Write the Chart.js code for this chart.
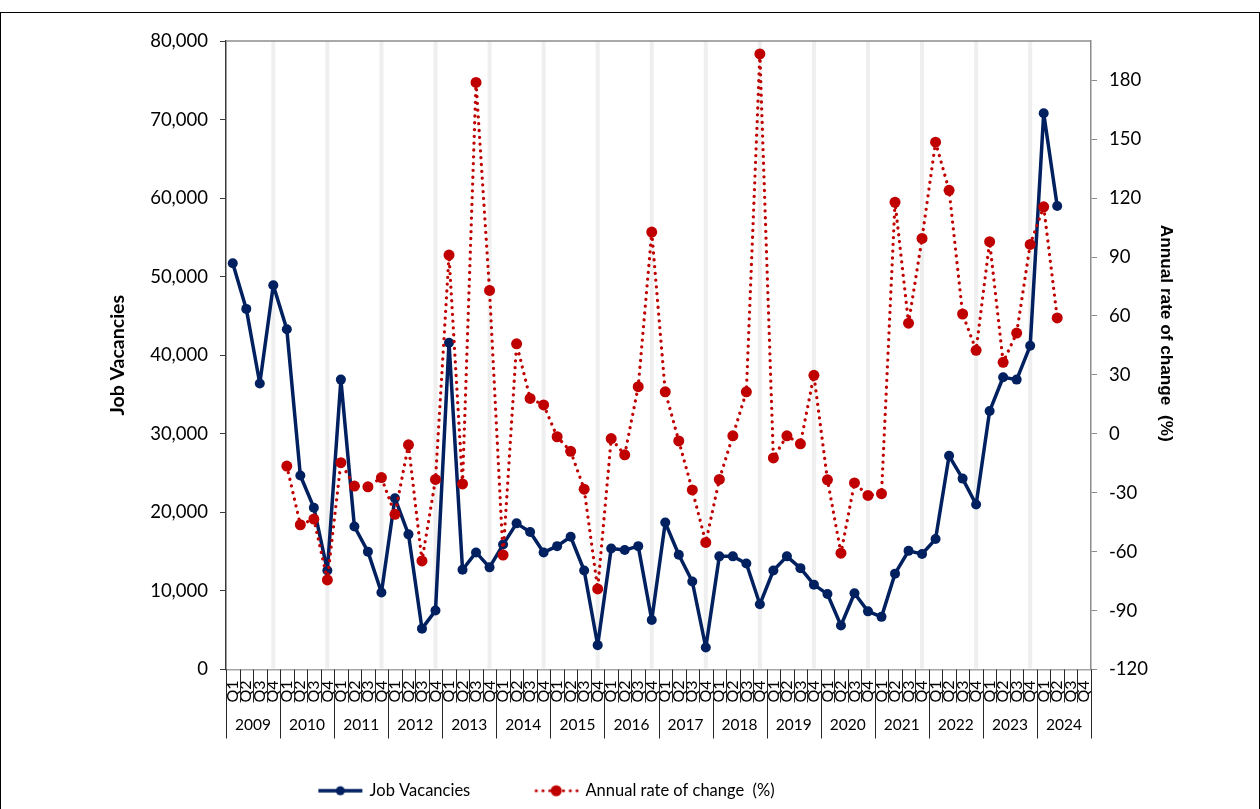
<!DOCTYPE html>
<html>
<head>
<meta charset="utf-8">
<script src="https://cdn.jsdelivr.net/npm/chart.js@4.4.1/dist/chart.umd.min.js"></script>
<style>
    html, body { margin: 0; padding: 0; background: #fff; }
    #frame { position: absolute; left: 0; top: 12px; width: 1258px; height: 820px; border: 1px solid #000; }
    #wrap { position: absolute; left: 0; top: 0; width: 1260px; height: 809px; }
</style>
</head>
<body>
<div id="frame"></div>
<div id="wrap"><canvas id="chart" width="1260" height="809"></canvas></div>
<script>
// Quarterly job vacancies and their annual rate of change

const years = ['2009', '2010', '2011', '2012', '2013', '2014', '2015', '2016',
               '2017', '2018', '2019', '2020', '2021', '2022', '2023', '2024'];
const quarters = ['Q1', 'Q2', 'Q3', 'Q4'];

// 2009 Q1 .. 2024 Q2
const jobVacancies = [
    51700, 45900, 36400, 48900,
    43300, 24700, 20600, 12600,
    36900, 18200, 15000, 9800,
    21800, 17200, 5200, 7500,
    41600, 12700, 14900, 13000,
    15900, 18600, 17500, 14900,
    15700, 16900, 12600, 3100,
    15400, 15200, 15700, 6300,
    18700, 14600, 11200, 2800,
    14400, 14400, 13500, 8300,
    12600, 14400, 12900, 10800,
    9600, 5600, 9700, 7400,
    6700, 12200, 15100, 14700,
    16600, 27200, 24300, 21000,
    32900, 37200, 36900, 41200,
    70800, 59000
];

// 2010 Q1 .. 2024 Q2 (%)
const annualChange = [
    -16.4, -46.3, -43.4, -74.4,
    -14.7, -26.6, -27.0, -22.3,
    -41.0, -5.6, -64.7, -23.2,
    91.0, -25.5, 178.9, 73.0,
    -61.7, 45.8, 18.0, 14.7,
    -1.5, -8.9, -28.2, -79.0,
    -2.4, -10.7, 24.0, 102.7,
    21.4, -3.6, -28.6, -55.3,
    -23.2, -1.0, 21.4, 193.4,
    -12.3, -1.0, -5.1, 29.8,
    -23.4, -60.8, -25.0, -31.4,
    -30.5, 117.9, 56.3, 99.5,
    148.5, 124.0, 61.0, 42.5,
    97.8, 36.4, 51.3, 96.4,
    115.6, 59.0
];

const vacancyTicks = { min: 0, max: 80000, step: 10000 };
const changeTicks = { min: -120, max: 200, step: 30 };
const rightTitle = 'Annual rate of change  (%)';

const categories = [];
years.forEach(() => quarters.forEach(q => categories.push(q)));

const padTo = (arr, before) => {
    const out = new Array(before).fill(null).concat(arr);
    while (out.length < categories.length) out.push(null);
    return out;
};

const NAVY = '#002060';
const RED = '#C00000';
const FONT = 'Lato, "Liberation Sans", sans-serif';

// legend samples: line + marker, like the spreadsheet legend
function legendSample(color, dotted, radius) {
    const c = document.createElement('canvas');
    c.width = 46;
    c.height = 14;
    const g = c.getContext('2d');
    g.strokeStyle = color;
    g.lineWidth = dotted ? 3.2 : 3.5;
    if (dotted) {
        g.setLineDash([0.01, 6.8]);
        g.lineCap = 'round';
    }
    g.beginPath();
    g.moveTo(dotted ? 3 : 1, 7);
    g.lineTo(45, 7);
    g.stroke();
    g.setLineDash([]);
    g.fillStyle = color;
    g.beginPath();
    g.arc(23, 7, radius, 0, Math.PI * 2);
    g.fill();
    return c;
}
const samples = [legendSample(NAVY, false, 4.5), legendSample(RED, true, 5.5)];

// light grey band at the Q4 of every full year, plus top border of the plot area
const bandsPlugin = {
    id: 'bands',
    beforeDatasetsDraw(chart) {
        const { ctx, chartArea } = chart;
        const x = chart.scales.x;
        ctx.save();
        ctx.fillStyle = '#efefef';
        for (let y = 0; y < years.length - 1; y++) {
            const px = x.getPixelForValue(y * 4 + 3);
            ctx.fillRect(px - 2, chartArea.top, 4, chartArea.bottom - chartArea.top - 1);
        }
        ctx.strokeStyle = '#8c8c8c';
        ctx.lineWidth = 1.5;
        ctx.beginPath();
        ctx.moveTo(chartArea.left, chartArea.top);
        ctx.lineTo(chartArea.right, chartArea.top);
        ctx.stroke();
        ctx.restore();
    }
};

// two-level category axis (quarter / year) and the secondary axis title
const yearAxisPlugin = {
    id: 'yearAxis',
    afterDraw(chart) {
        const { ctx, chartArea } = chart;
        const x = chart.scales.x;
        const step = (chartArea.right - chartArea.left) / categories.length;
        const base = chartArea.bottom;
        ctx.save();
        ctx.strokeStyle = '#262626';
        ctx.lineWidth = 1;
        for (let i = 0; i <= categories.length; i++) {
            const px = Math.round(chartArea.left + i * step) + 0.5;
            ctx.beginPath();
            ctx.moveTo(px, base);
            ctx.lineTo(px, base + (i % 4 === 0 ? 69 : 33));
            ctx.stroke();
        }
        ctx.fillStyle = '#000';
        ctx.font = '15.5px ' + FONT;
        ctx.textAlign = 'center';
        ctx.textBaseline = 'middle';
        years.forEach((yr, i) => {
            const cx = (x.getPixelForValue(i * 4 + 1) + x.getPixelForValue(i * 4 + 2)) / 2;
            ctx.fillText(yr, cx, base + 55);
        });

        const y1 = chart.scales.y1;
        ctx.translate(y1.right - 14, (chartArea.top + chartArea.bottom) / 2 - 22);
        ctx.rotate(Math.PI / 2);
        ctx.font = 'bold 17.2px "Liberation Sans", Arial, sans-serif';
        ctx.fillText(rightTitle, 0, 0);
        ctx.restore();
    }
};

// move the legend to where the original sits
const legendShift = {
    id: 'legendShift',
    afterLayout(chart) {
        const lg = chart.legend;
        lg.left -= 93;
        lg.right -= 93;
    }
};

new Chart(document.getElementById('chart'), {
    type: 'line',
    data: {
        labels: categories,
        datasets: [
            {
                label: 'Job Vacancies',
                data: padTo(jobVacancies, 0),
                yAxisID: 'y',
                borderColor: NAVY,
                backgroundColor: NAVY,
                borderWidth: 3.5,
                borderJoinStyle: 'round',
                pointRadius: 5,
                pointBackgroundColor: NAVY,
                pointBorderWidth: 0,
                tension: 0,
                order: 1
            },
            {
                label: rightTitle,
                data: padTo(annualChange, 4),
                yAxisID: 'y1',
                borderColor: RED,
                backgroundColor: RED,
                borderWidth: 3.3,
                borderDash: [0.01, 6.8],
                borderCapStyle: 'round',
                pointRadius: 5.5,
                pointBackgroundColor: RED,
                pointBorderWidth: 0,
                tension: 0,
                order: 0
            }
        ]
    },
    options: {
        responsive: false,
        animation: false,
        layout: { padding: { left: 100, right: 80, top: 41, bottom: 0 } },
        plugins: {
            tooltip: { enabled: false },
            legend: {
                position: 'bottom',
                labels: {
                    usePointStyle: true,
                    pointStyleWidth: 42,
                    padding: 65,
                    color: '#000',
                    font: { family: FONT, size: 16.5 },
                    generateLabels: chart => chart.data.datasets.map((ds, i) => ({
                        text: ds.label,
                        pointStyle: samples[i],
                        datasetIndex: i,
                        hidden: false,
                        fontColor: '#000',
                        lineWidth: 0,
                        strokeStyle: 'transparent',
                        fillStyle: 'transparent'
                    }))
                }
            }
        },
        scales: {
            x: {
                type: 'category',
                offset: true,
                grid: { display: false },
                border: { display: true, color: '#a6a6a6', width: 1.5 },
                ticks: {
                    autoSkip: false,
                    minRotation: 90,
                    maxRotation: 90,
                    padding: 3,
                    color: '#000',
                    font: { family: FONT, size: 16 }
                },
                afterFit: s => { s.height = 48; }
            },
            y: {
                position: 'left',
                min: vacancyTicks.min,
                max: vacancyTicks.max,
                grid: { drawOnChartArea: false, drawTicks: true, tickLength: 6, color: '#3a3a3a' },
                border: { color: '#3a3a3a', width: 1.5 },
                ticks: {
                    stepSize: vacancyTicks.step,
                    padding: 12,
                    color: '#000',
                    font: { family: FONT, size: 18.5 },
                    callback: v => v.toLocaleString('en-US')
                },
                title: {
                    display: true,
                    text: 'Job Vacancies',
                    color: '#000',
                    font: { family: FONT, size: 19.5, weight: 'bold' },
                    padding: { top: 6, bottom: 0 }
                },
                afterFit: s => { s.width = 126; }
            },
            y1: {
                position: 'right',
                min: changeTicks.min,
                max: changeTicks.max,
                grid: { drawOnChartArea: false, drawTicks: true, tickLength: 6, color: '#8c8c8c' },
                border: { color: '#8c8c8c', width: 1.5 },
                ticks: {
                    stepSize: changeTicks.step,
                    includeBounds: false,
                    padding: 12,
                    color: '#000',
                    font: { family: FONT, size: 18.5 }
                },
                afterFit: s => { s.width = 89; }
            }
        }
    },
    plugins: [bandsPlugin, yearAxisPlugin, legendShift]
});
</script>
</body>
</html>
